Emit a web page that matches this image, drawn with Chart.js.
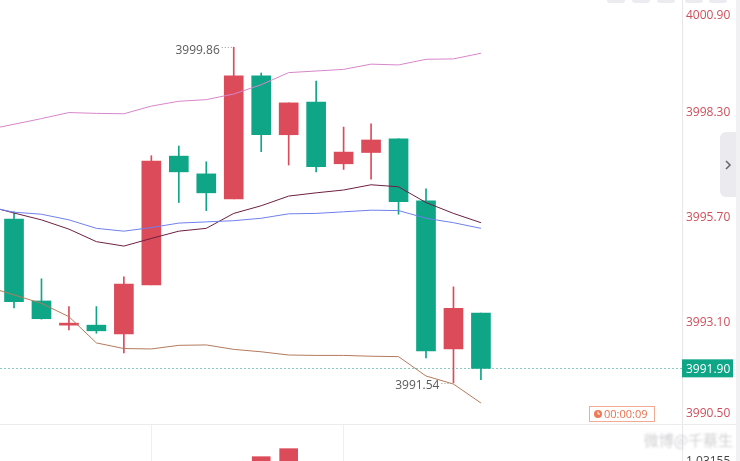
<!DOCTYPE html>
<html><head><meta charset="utf-8">
<script src="https://cdn.jsdelivr.net/npm/chart.js@4/dist/chart.umd.min.js"></script>
<style>
html,body{margin:0;padding:0;background:#fff;overflow:hidden;}
#wrap{position:relative;width:740px;height:461px;overflow:hidden;}
#main{position:absolute;left:0;top:0;}
#sub{position:absolute;left:0;top:424px;}
.ic{position:absolute;top:-6px;width:18px;height:9px;background:#ececf0;border-radius:3px;}
#tab{position:absolute;left:720px;top:132px;width:16px;height:65px;background:#ebebef;border-radius:6px 0 0 6px;}
#tab svg{position:absolute;left:4px;top:27px;}
#strip{position:absolute;left:736px;top:0;width:4px;height:461px;background:#f1f1f3;}
</style></head>
<body>
<div id="wrap">
<canvas id="main" width="740" height="424"></canvas>
<canvas id="sub" width="740" height="37"></canvas>
<div class="ic" style="left:607px"></div>
<div class="ic" style="left:632px"></div>
<div class="ic" style="left:657px"></div>
<div class="ic" style="left:685px"></div>
<div class="ic" style="left:709px"></div>
<div id="strip"></div>
<div id="tab"><svg width="8" height="12" viewBox="0 0 8 12"><polyline points="2,2 6,6 2,10" fill="none" stroke="#666" stroke-width="1.5"/></svg></div>
</div>
<script>
// ---- data ----
const candleIndex = [0,1,2,3,4,5,6,7,8,9,10,11,12,13,14,15,16,17];
const opens  = [3995.60,3993.57,3992.97,3992.97,3992.75,3993.97,3997.16,3996.72,3996.10,3999.15,3997.69,3998.50,3996.97,3997.25,3997.59,3996.05,3992.38,3993.27];
const highs  = [3995.78,3994.12,3993.43,3993.43,3994.17,3997.17,3997.41,3997.02,3999.86,3999.22,3998.48,3999.02,3997.88,3997.96,3997.59,3996.35,3993.92,3993.27];
const lows   = [3993.40,3993.12,3992.85,3992.77,3992.28,3993.97,3996.01,3995.81,3996.10,3997.27,3996.94,3996.77,3996.83,3996.59,3995.72,3992.16,3991.54,3991.62];
const closes = [3993.55,3993.13,3993.02,3992.83,3993.99,3997.04,3996.77,3996.25,3999.15,3997.69,3998.48,3996.90,3997.26,3997.56,3996.03,3992.33,3993.39,3991.90];

const lineIndex = [-1,0,1,2,3,4,5,6,7,8,9,10,11,12,13,14,15,16,17];
const upperBand = [3997.81,3997.95,3998.09,3998.24,3998.22,3998.21,3998.40,3998.52,3998.56,3998.70,3998.93,3999.23,3999.27,3999.31,3999.44,3999.42,3999.56,3999.57,3999.71];
const midBand   = [3995.91,3995.77,3995.72,3995.58,3995.37,3995.30,3995.39,3995.50,3995.53,3995.56,3995.62,3995.73,3995.74,3995.78,3995.82,3995.81,3995.62,3995.51,3995.37];
const maLine    = [3995.93,3995.75,3995.58,3995.35,3995.04,3994.93,3995.12,3995.30,3995.37,3995.74,3995.93,3996.17,3996.25,3996.32,3996.45,3996.40,3996.01,3995.74,3995.51];
const lowerBand = [3993.93,3993.72,3993.51,3993.18,3992.53,3992.39,3992.38,3992.47,3992.48,3992.37,3992.31,3992.23,3992.22,3992.22,3992.20,3992.19,3991.71,3991.51,3991.04];

const yTickValues = [4000.90, 3998.30, 3995.70, 3993.10, 3990.50];
const lastPrice = 3991.90;
const highMark = {index: 8, value: 3999.86, label: "3999.86"};
const lowMark  = {index: 16, value: 3991.54, label: "3991.54"};
const timerText = "00:00:09";

const subIndex  = [9, 10];
const subValues = [7, 20];
const subGridIndex = [5, 12];
const subTickLabel = "1.03155";

// ---- styles ----
const UP = '#dc4b5a', DOWN = '#0fa587';
const FONT = '"Open Sans", "Noto Sans", sans-serif';
const X_MIN = -0.51, X_MAX = 24.32;

const candleColors = candleIndex.map((_, i) => closes[i] >= opens[i] ? UP : DOWN);

const overlay = {
  id: 'overlay',
  beforeDatasetsDraw(chart) {
    const {ctx, chartArea, scales} = chart;
    const y = Math.round(scales.y.getPixelForValue(lastPrice)) + 0.5;
    ctx.save();
    ctx.strokeStyle = '#86cbbb';
    ctx.lineWidth = 1;
    ctx.setLineDash([2, 2]);
    ctx.beginPath();
    ctx.moveTo(chartArea.left, y);
    ctx.lineTo(chartArea.right, y);
    ctx.stroke();
    ctx.restore();
  },
  afterDraw(chart) {
    const {ctx, chartArea, scales} = chart;
    const ys = scales.y, xs = scales.x;
    ctx.save();
    // y axis labels (clamped into the pane like the reference)
    ctx.font = '12px ' + FONT;
    ctx.fillStyle = '#cf4f5b';
    ctx.textAlign = 'left';
    ctx.textBaseline = 'middle';
    ys.ticks.forEach(t => {
      let py = ys.getPixelForValue(t.value) + 2.5;
      py = Math.min(Math.max(py, 16), 414);
      ctx.fillText(t.value.toFixed(2), chartArea.right + 4, py);
    });
    // last price label
    const lp = ys.getPixelForValue(lastPrice);
    ctx.fillStyle = DOWN;
    ctx.fillRect(chartArea.right, lp - 9, 51, 18);
    ctx.fillStyle = '#ffffff';
    ctx.fillText(lastPrice.toFixed(2), chartArea.right + 4, lp + 1);
    // high / low marks
    ctx.fillStyle = '#5a5a5a';
    ctx.textAlign = 'right';
    [highMark, lowMark].forEach(m => {
      const px = xs.getPixelForValue(m.index);
      const py = ys.getPixelForValue(m.value);
      ctx.fillText(m.label, px - 14, py + 3);
      ctx.strokeStyle = '#9a9a9a';
      ctx.lineWidth = 1;
      ctx.setLineDash([1, 2]);
      ctx.beginPath();
      ctx.moveTo(px - 12, Math.round(py) + 0.5);
      ctx.lineTo(px - 1, Math.round(py) + 0.5);
      ctx.stroke();
      ctx.setLineDash([]);
    });
    // timer box
    ctx.strokeStyle = '#f2ab93';
    ctx.lineWidth = 1;
    ctx.strokeRect(589.5, 406.5, 65, 15);
    ctx.fillStyle = '#ef7a58';
    ctx.beginPath();
    ctx.arc(598, 414, 4, 0, Math.PI * 2);
    ctx.fill();
    ctx.strokeStyle = '#fff';
    ctx.beginPath();
    ctx.moveTo(598, 411.5); ctx.lineTo(598, 414); ctx.lineTo(600, 414);
    ctx.stroke();
    ctx.fillStyle = '#e8714e';
    ctx.font = '11px ' + FONT;
    ctx.textAlign = 'left';
    ctx.fillText(timerText, 604, 414.5);
    ctx.restore();
  }
};

new Chart(document.getElementById('main'), {
  type: 'bar',
  data: {
    datasets: [
      { type: 'line', data: lineIndex.map((x, k) => ({x, y: upperBand[k]})), borderColor: '#d886cc', borderWidth: 1, pointRadius: 0, tension: 0, order: 0 },
      { type: 'line', data: lineIndex.map((x, k) => ({x, y: midBand[k]})), borderColor: '#6f80ee', borderWidth: 1, pointRadius: 0, tension: 0, order: 0 },
      { type: 'line', data: lineIndex.map((x, k) => ({x, y: maLine[k]})), borderColor: '#6e1f40', borderWidth: 1, pointRadius: 0, tension: 0, order: 0 },
      { type: 'line', data: lineIndex.map((x, k) => ({x, y: lowerBand[k]})), borderColor: '#b57a5d', borderWidth: 1, pointRadius: 0, tension: 0, order: 0 },
      { type: 'bar', data: candleIndex.map(i => ({x: i, y: [opens[i], closes[i]]})), backgroundColor: candleColors, borderWidth: 0, barThickness: 19, grouped: false, order: 1 },
      { type: 'bar', data: candleIndex.map(i => ({x: i, y: [lows[i], highs[i]]})), backgroundColor: candleColors, borderWidth: 0, barThickness: 1, grouped: false, order: 2 }
    ]
  },
  options: {
    responsive: false,
    devicePixelRatio: 1,
    animation: false,
    events: [],
    layout: { padding: 0 },
    plugins: { legend: { display: false }, tooltip: { enabled: false } },
    scales: {
      x: { type: 'linear', min: X_MIN, max: X_MAX, offset: false, display: false },
      y: {
        position: 'right', min: 3990.52, max: 4001.03,
        afterBuildTicks: s => { s.ticks = yTickValues.map(v => ({value: v})); },
        afterFit: s => { s.width = 58; },
        ticks: { display: false },
        grid: { display: false, drawTicks: false },
        border: { display: true, color: '#e8e8ec' }
      }
    }
  },
  plugins: [overlay]
});

const subOverlay = {
  id: 'subOverlay',
  afterDraw(chart) {
    const {ctx, chartArea} = chart;
    ctx.save();
    ctx.strokeStyle = '#ececef';
    ctx.beginPath();
    ctx.moveTo(0, 0.5); ctx.lineTo(740, 0.5);
    ctx.stroke();
    // watermark
    ctx.filter = 'blur(1.2px)';
    ctx.fillStyle = 'rgba(170,170,175,0.55)';
    ctx.font = '15px "Noto Sans CJK SC", sans-serif';
    ctx.textAlign = 'right';
    ctx.textBaseline = 'middle';
    ctx.fillText('微博@千蔡生', 733, 16);
    ctx.filter = 'none';
    ctx.fillStyle = '#444';
    ctx.font = '12px ' + FONT;
    ctx.textAlign = 'left';
    ctx.fillText(subTickLabel, chartArea.right + 4, 38);
    ctx.restore();
  }
};

new Chart(document.getElementById('sub'), {
  type: 'bar',
  data: {
    datasets: [
      { data: subIndex.map((x, k) => ({x, y: subValues[k]})), backgroundColor: UP, borderWidth: 0, barThickness: 18 }
    ]
  },
  options: {
    responsive: false,
    devicePixelRatio: 1,
    animation: false,
    events: [],
    layout: { padding: 0 },
    plugins: { legend: { display: false }, tooltip: { enabled: false } },
    scales: {
      x: {
        type: 'linear', min: X_MIN, max: X_MAX, offset: false,
        afterBuildTicks: s => { s.ticks = subGridIndex.map(v => ({value: v})); },
        ticks: { display: false },
        grid: { display: true, offset: false, drawTicks: false, color: '#efeff2' },
        border: { display: false }
      },
      y: {
        position: 'right', min: 0, max: 60,
        afterFit: s => { s.width = 58; },
        ticks: { display: false },
        grid: { display: false, drawTicks: false },
        border: { display: true, color: '#e8e8ec' }
      }
    }
  },
  plugins: [subOverlay]
});
</script>
</body></html>
